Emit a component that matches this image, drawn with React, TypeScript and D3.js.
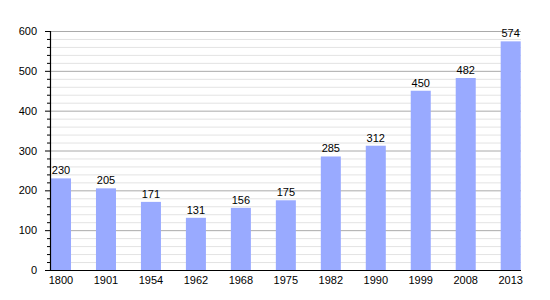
import React from "react";
import * as d3 from "d3";

const years = ["1800", "1901", "1954", "1962", "1968", "1975", "1982", "1990", "1999", "2008", "2013"];
const population = [230, 205, 171, 131, 156, 175, 285, 312, 450, 482, 574];
const majorTicks = [0, 100, 200, 300, 400, 500, 600];
const minorTicks = d3.range(0, 601, 20);

export default function App() {
  const W = 550, H = 300;
  const left = 50, right = 521, top = 31, bottom = 270;
  const x = d3.scaleBand<string>().domain(years).range([51, 520.7]).paddingInner(0.555).paddingOuter(0);
  const y = d3.scaleLinear().domain([0, 600]).range([bottom, top]);
  const font = "Liberation Sans, Arial, sans-serif";
  return (
    <svg width={W} height={H} style={{ position: "absolute", left: 0, top: 0, background: "#fff" }} fontFamily={font}>
      {minorTicks.filter(v => v % 100 !== 0).map(v => (
        <line key={"mg" + v} x1={left} x2={right} y1={y(v) + 0.5} y2={y(v) + 0.5} stroke="#e3e3e3" strokeWidth={1} />
      ))}
      {majorTicks.filter(v => v !== 0).map(v => (
        <line key={"Mg" + v} x1={left} x2={right} y1={y(v) + 0.5} y2={y(v) + 0.5} stroke="#aaaaaa" strokeWidth={1} />
      ))}
      {years.map((yr, i) => (
        <rect key={yr} x={x(yr)} y={y(population[i])} width={x.bandwidth()} height={bottom - y(population[i])} fill="#99aaff" />
      ))}
      {years.map((yr, i) => (
        <text key={"v" + yr} x={(x(yr) as number) + x.bandwidth() / 2} y={y(population[i]) - 4} textAnchor="middle" fontSize={11} fill="#000">
          {population[i]}
        </text>
      ))}
      {minorTicks.map(v => (
        <line key={"mt" + v} x1={v % 100 === 0 ? left - 5 : left - 3} x2={left} y1={y(v) + 0.5} y2={y(v) + 0.5} stroke="#000" strokeWidth={1} />
      ))}
      {majorTicks.map(v => (
        <text key={"yl" + v} x={37} y={y(v) + 4} textAnchor="end" fontSize={11} fill="#000">{v}</text>
      ))}
      <line x1={left + 0.5} x2={left + 0.5} y1={top} y2={bottom + 1} stroke="#000" strokeWidth={1.2} />
      <line x1={left} x2={right} y1={bottom + 0.5} y2={bottom + 0.5} stroke="#000" strokeWidth={1.2} />
      {years.map(yr => (
        <text key={"xl" + yr} x={(x(yr) as number) + x.bandwidth() / 2} y={284} textAnchor="middle" fontSize={11} fill="#000">{yr}</text>
      ))}
    </svg>
  );
}
